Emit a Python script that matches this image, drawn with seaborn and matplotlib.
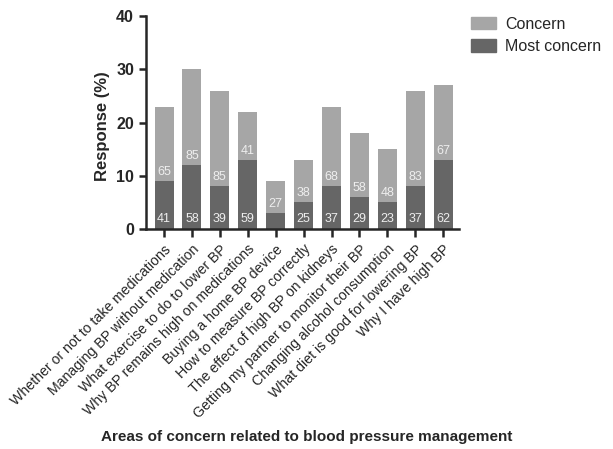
import numpy as np
import pandas as pd
import matplotlib.pyplot as plt
import seaborn as sns
from matplotlib.patches import Patch

# Data
areas = ["Whether or not to take medications", "Managing BP without medication",
         "What exercise to do to lower BP", "Why BP remains high on medications",
         "Buying a home BP device", "How to measure BP correctly",
         "The effect of high BP on kidneys", "Getting my partner to monitor their BP",
         "Changing alcohol consumption", "What diet is good for lowering BP",
         "Why I have high BP"]
concern_pct = [23, 30, 26, 22, 9, 13, 23, 18, 15, 26, 27]
most_pct = [9, 12, 8, 13, 3, 5, 8, 6, 5, 8, 13]
concern_n = ["65", "85", "85", "41", "27", "38", "68", "58", "48", "83", "67"]
most_n = ["41", "58", "39", "59", "", "25", "37", "29", "23", "37", "62"]

light = "#a6a6a6"
dark = "#666666"

sns.set_style("ticks")
plt.rcParams['font.family'] = ['Liberation Sans', 'DejaVu Sans']

df = pd.DataFrame({"area": areas, "concern": concern_pct, "most": most_pct})

fig = plt.figure(figsize=(6.13, 4.49), dpi=100)
ax = fig.add_axes([0.238, 0.49, 0.51, 0.474])

sns.barplot(data=df, x="area", y="concern", color=light, width=0.68,
            saturation=1, ax=ax, edgecolor="none")
sns.barplot(data=df, x="area", y="most", color=dark, width=0.68,
            saturation=1, ax=ax, edgecolor="none")

# count labels inside bars
for i in range(len(areas)):
    ax.text(i, most_pct[i] + 1.7, concern_n[i], ha="center", va="center",
            color="#eeeeee", fontsize=9)
    if most_n[i]:
        ax.text(i, 1.8, most_n[i], ha="center", va="center",
                color="#eeeeee", fontsize=9)

ax.set_ylim(0, 40)
ax.set_xlim(-0.65, len(areas) - 0.45)
ax.set_yticks([0, 10, 20, 30, 40])
ax.tick_params(axis="y", labelsize=11.5, width=1.8, length=5)
ax.tick_params(axis="x", labelsize=10.2, width=1.8, length=6)
for lab in ax.get_yticklabels():
    lab.set_fontweight("bold")
ax.set_xticks(range(len(areas)))
ax.set_xticklabels(areas, rotation=45, ha="right", rotation_mode="anchor")
ax.set_ylabel("Response (%)", fontsize=12, fontweight="bold")
ax.yaxis.set_label_coords(-0.115, 0.485)
ax.set_xlabel("")
for s in ["left", "bottom"]:
    ax.spines[s].set_linewidth(1.8)
sns.despine(ax=ax)

fig.text(0.5, 0.027, "Areas of concern related to blood pressure management",
         ha="center", va="center", fontsize=11, fontweight="bold")

handles = [Patch(color=light, label="Concern"), Patch(color=dark, label="Most concern")]
fig.legend(handles=handles, loc="upper left", bbox_to_anchor=(0.745, 0.995),
           frameon=False, fontsize=11.5, handlelength=1.55, handleheight=0.85,
           labelspacing=0.45, handletextpad=0.6)

fig.savefig("out.png", dpi=100)
